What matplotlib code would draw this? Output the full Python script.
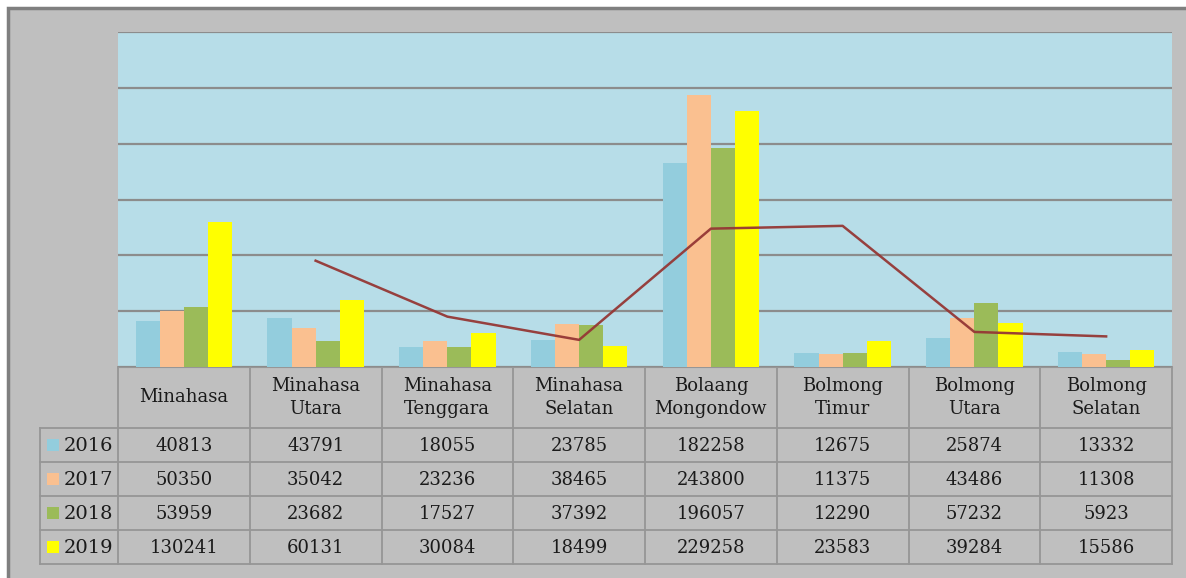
import matplotlib.pyplot as plt
import numpy as np
from matplotlib.patches import Rectangle

# data
regions = ["Minahasa", "Minahasa\nUtara", "Minahasa\nTenggara", "Minahasa\nSelatan",
           "Bolaang\nMongondow", "Bolmong\nTimur", "Bolmong\nUtara", "Bolmong\nSelatan"]
years = ["2016", "2017", "2018", "2019"]
v2016 = [40813, 43791, 18055, 23785, 182258, 12675, 25874, 13332]
v2017 = [50350, 35042, 23236, 38465, 243800, 11375, 43486, 11308]
v2018 = [53959, 23682, 17527, 37392, 196057, 12290, 57232, 5923]
v2019 = [130241, 60131, 30084, 18499, 229258, 23583, 39284, 15586]
# trend line (2-period moving average of 2019), starts at 2nd region
trend = [95200, 45100, 24300, 123900, 126400, 31400, 27400]

colors = ['#93cddd', '#fac090', '#9bbb59', '#ffff00']
trend_color = '#953735'
plot_bg = '#b7dde8'
outer_bg = '#bfbfbf'
grid_c = '#8c8c8c'
table_c = '#969696'

W, H = 1186, 578
fig = plt.figure(figsize=(W / 100, H / 100), dpi=100)
fig.patch.set_facecolor('white')

# full-figure overlay in pixel coords for background and table
bg = fig.add_axes([0, 0, 1, 1])
bg.set_xlim(0, W)
bg.set_ylim(H, 0)
bg.axis('off')
bg.add_patch(Rectangle((8, 8), W, H, facecolor=outer_bg, edgecolor='#7f7f7f', lw=2.5))

# plot area
px0, px1, py0, py1 = 118, 1172, 32, 367
ax = fig.add_axes([px0 / W, 1 - py1 / H, (px1 - px0) / W, (py1 - py0) / H])
ax.set_facecolor(plot_bg)
n = len(regions)
x = np.arange(n)
bw = 0.183
for i, (vals, c) in enumerate(zip([v2016, v2017, v2018, v2019], colors)):
    ax.bar(x + (i - 1.5) * bw, vals, width=bw, color=c, zorder=3)
ax.plot(x[1:], trend, color=trend_color, lw=1.8, alpha=0.95, zorder=4)
ax.set_xlim(-0.5, n - 0.5)
ax.set_ylim(0, 300000)
ax.set_yticks(np.arange(0, 300001, 50000))
ax.yaxis.grid(True, color=grid_c, lw=1.6, zorder=1)
ax.tick_params(left=False, bottom=False, labelleft=False, labelbottom=False)
for s in ax.spines.values():
    s.set_visible(False)
ax.spines['bottom'].set_visible(True)
ax.spines['bottom'].set_color(table_c)

# data table
col_edges = np.linspace(px0, px1, n + 1)
row_edges = [367, 428, 462, 496, 530, 564]
lab_x0 = 40
tfont = dict(family='DejaVu Serif', fontsize=13, color='#1a1a1a')
lw = 1.3
# vertical lines
for xe in col_edges:
    bg.plot([xe, xe], [row_edges[0], row_edges[-1]], color=table_c, lw=lw)
bg.plot([lab_x0, lab_x0], [row_edges[1], row_edges[-1]], color=table_c, lw=lw)
# horizontal lines
for k, ye in enumerate(row_edges):
    xs = px0 if k == 0 else lab_x0
    bg.plot([xs, px1], [ye, ye], color=table_c, lw=lw)

for j, name in enumerate(regions):
    cx = (col_edges[j] + col_edges[j + 1]) / 2
    bg.text(cx, (row_edges[0] + row_edges[1]) / 2, name, ha='center', va='center',
            linespacing=1.3, **tfont)
for i, (vals, c) in enumerate(zip([v2016, v2017, v2018, v2019], colors)):
    cy = (row_edges[i + 1] + row_edges[i + 2]) / 2
    bg.add_patch(Rectangle((47, cy - 6), 12, 12, facecolor=c, edgecolor='none'))
    bg.text(64, cy + 1, years[i], ha='left', va='center',
            family='DejaVu Serif', fontsize=14, color='#1a1a1a')
    for j, v in enumerate(vals):
        cx = (col_edges[j] + col_edges[j + 1]) / 2
        bg.text(cx, cy + 1, str(v), ha='center', va='center', **tfont)

fig.savefig('out.png', dpi=100)
